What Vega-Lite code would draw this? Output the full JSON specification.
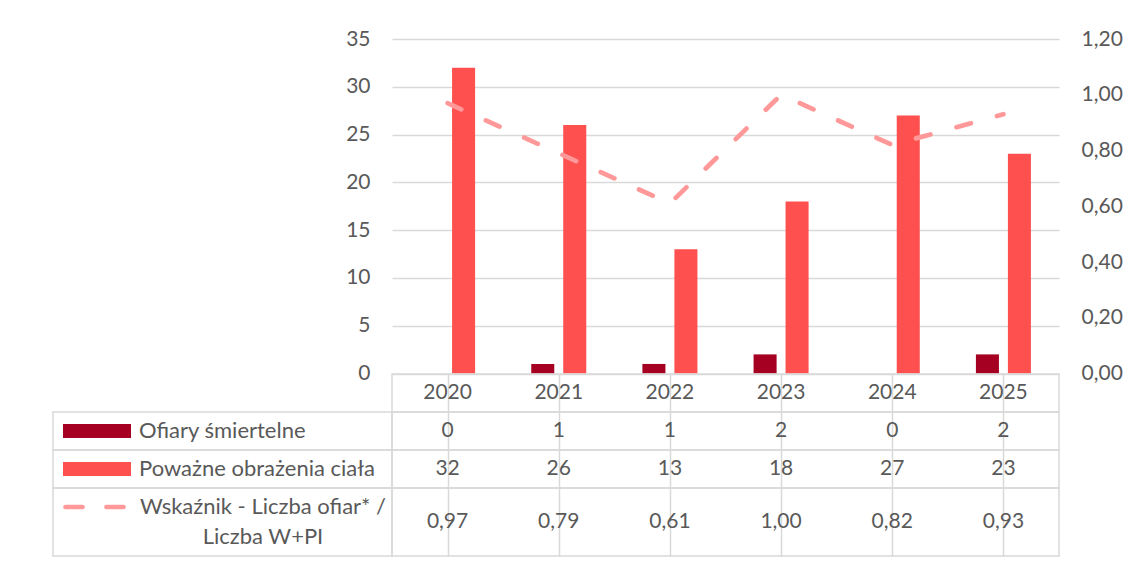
{
  "$schema": "https://vega.github.io/schema/vega-lite/v6.json",
  "padding": {"left": 52, "top": 28, "right": 5, "bottom": 0},
  "background": "white",
  "config": {
    "font": "Lato",
    "locale": {"number": {"decimal": ",", "thousands": " ", "grouping": [3], "currency": ["", " zł"]}},
    "text": {"font": "Lato", "fontSize": 21, "color": "#595959"},
    "axis": {"labelFont": "Lato", "labelFontSize": 21, "labelColor": "#595959"},
    "view": {"stroke": "#d9d9d9", "strokeWidth": 1.5}
  },
  "datasets": {
    "main": [
      {"year": "2020", "series": "Ofiary śmiertelne", "value": 0},
      {"year": "2021", "series": "Ofiary śmiertelne", "value": 1},
      {"year": "2022", "series": "Ofiary śmiertelne", "value": 1},
      {"year": "2023", "series": "Ofiary śmiertelne", "value": 2},
      {"year": "2024", "series": "Ofiary śmiertelne", "value": 0},
      {"year": "2025", "series": "Ofiary śmiertelne", "value": 2},
      {"year": "2020", "series": "Poważne obrażenia ciała", "value": 32},
      {"year": "2021", "series": "Poważne obrażenia ciała", "value": 26},
      {"year": "2022", "series": "Poważne obrażenia ciała", "value": 13},
      {"year": "2023", "series": "Poważne obrażenia ciała", "value": 18},
      {"year": "2024", "series": "Poważne obrażenia ciała", "value": 27},
      {"year": "2025", "series": "Poważne obrażenia ciała", "value": 23}
    ],
    "ratio": [
      {"year": "2020", "ratio": 0.97},
      {"year": "2021", "ratio": 0.79},
      {"year": "2022", "ratio": 0.61},
      {"year": "2023", "ratio": 1.00},
      {"year": "2024", "ratio": 0.82},
      {"year": "2025", "ratio": 0.93}
    ]
  },
  "columns": 2,
  "spacing": 0,
  "bounds": "flush",
  "concat": [
    {
      "width": 339, "height": 334.5,
      "view": {"stroke": null},
      "data": {"values": [{}]},
      "mark": {"type": "text", "text": ""}
    },
    {
      "width": 667, "height": 334.5,
      "view": {"stroke": null},
      "layer": [
        {
          "data": {"name": "main"},
          "mark": {"type": "bar"},
          "encoding": {
            "x": {"field": "year", "type": "ordinal", "axis": null, "scale": {"paddingInner": 0.505, "paddingOuter": 0.2525}},
            "xOffset": {"field": "series", "type": "nominal", "sort": ["Ofiary śmiertelne", "Poważne obrażenia ciała"], "scale": {"paddingInner": 0.28, "paddingOuter": 0}},
            "y": {"field": "value", "type": "quantitative", "scale": {"domain": [0, 35]},
                  "axis": {"values": [0, 5, 10, 15, 20, 25, 30, 35], "title": null, "grid": true, "gridColor": "#d9d9d9", "gridWidth": 1.5, "domain": false, "ticks": false, "labelPadding": 22}},
            "color": {"field": "series", "type": "nominal", "scale": {"domain": ["Ofiary śmiertelne", "Poważne obrażenia ciała"], "range": ["#a50021", "#ff5050"]}, "legend": null}
          }
        },
        {
          "data": {"name": "ratio"},
          "mark": {"type": "line", "color": "#ff9999", "strokeWidth": 4.7, "strokeDash": [15, 27], "strokeCap": "round"},
          "encoding": {
            "x": {"field": "year", "type": "ordinal", "axis": null},
            "y": {"field": "ratio", "type": "quantitative", "scale": {"domain": [0, 1.2]},
                  "axis": {"orient": "right", "values": [0, 0.2, 0.4, 0.6, 0.8, 1.0, 1.2], "format": ".2f", "title": null, "grid": false, "domain": false, "ticks": false, "labelPadding": 22}}
          }
        }
      ],
      "resolve": {"scale": {"y": "independent"}}
    },
    {
      "width": 339, "height": 38,
      "view": {"stroke": null},
      "data": {"values": [{}]},
      "mark": {"type": "text", "text": ""}
    },
    {
      "width": 667, "height": 38,
      "data": {"name": "ratio"},
      "mark": {"type": "text", "baseline": "middle"},
      "encoding": {
        "x": {"field": "year", "type": "ordinal", "scale": {"paddingInner": 0, "paddingOuter": 0},
              "axis": {"grid": true, "bandPosition": 0, "labels": false, "ticks": false, "domain": false, "title": null, "gridColor": "#d9d9d9", "gridWidth": 1.5}},
        "text": {"field": "year"}
      }
    },
    {
      "width": 339, "height": 38,
      "data": {"values": [{"label": "Ofiary śmiertelne"}]},
      "encoding": {"y": {"field": "label", "type": "nominal", "axis": null, "scale": {"paddingInner": 0, "paddingOuter": 0}}},
      "layer": [
        {"mark": {"type": "bar", "color": "#a50021", "height": 14}, "encoding": {"x": {"value": 10}, "x2": {"value": 78}}},
        {"mark": {"type": "text", "align": "left", "baseline": "middle", "fontSize": 22}, "encoding": {"x": {"value": 86}, "text": {"field": "label"}}}
      ]
    },
    {
      "width": 667, "height": 38,
      "data": {"name": "main"},
      "transform": [{"filter": "datum.series === 'Ofiary śmiertelne'"}],
      "mark": {"type": "text", "baseline": "middle"},
      "encoding": {
        "x": {"field": "year", "type": "ordinal", "scale": {"paddingInner": 0, "paddingOuter": 0},
              "axis": {"grid": true, "bandPosition": 0, "labels": false, "ticks": false, "domain": false, "title": null, "gridColor": "#d9d9d9", "gridWidth": 1.5}},
        "text": {"field": "value"}
      }
    },
    {
      "width": 339, "height": 38,
      "data": {"values": [{"label": "Poważne obrażenia ciała"}]},
      "encoding": {"y": {"field": "label", "type": "nominal", "axis": null, "scale": {"paddingInner": 0, "paddingOuter": 0}}},
      "layer": [
        {"mark": {"type": "bar", "color": "#ff5050", "height": 14}, "encoding": {"x": {"value": 10}, "x2": {"value": 78}}},
        {"mark": {"type": "text", "align": "left", "baseline": "middle", "fontSize": 22}, "encoding": {"x": {"value": 86}, "text": {"field": "label"}}}
      ]
    },
    {
      "width": 667, "height": 38,
      "data": {"name": "main"},
      "transform": [{"filter": "datum.series === 'Poważne obrażenia ciała'"}],
      "mark": {"type": "text", "baseline": "middle"},
      "encoding": {
        "x": {"field": "year", "type": "ordinal", "scale": {"paddingInner": 0, "paddingOuter": 0},
              "axis": {"grid": true, "bandPosition": 0, "labels": false, "ticks": false, "domain": false, "title": null, "gridColor": "#d9d9d9", "gridWidth": 1.5}},
        "text": {"field": "value"}
      }
    },
    {
      "width": 339, "height": 68,
      "data": {"values": [{"label": "Wskaźnik - Liczba ofiar* /\nLiczba W+PI"}]},
      "encoding": {"y": {"field": "label", "type": "nominal", "axis": null, "scale": {"paddingInner": 0, "paddingOuter": 0}}},
      "layer": [
        {"mark": {"type": "rule", "color": "#ff9999", "strokeWidth": 4.7, "strokeDash": [17, 24], "strokeCap": "round"},
         "encoding": {"x": {"value": 12.5}, "x2": {"value": 70.5}, "y": {"value": 19}}},
        {"mark": {"type": "text", "align": "center", "baseline": "middle", "dy": -15, "lineBreak": "\n", "lineHeight": 30, "fontSize": 22},
         "encoding": {"x": {"value": 210}, "text": {"field": "label"}}}
      ]
    },
    {
      "width": 667, "height": 68,
      "data": {"name": "ratio"},
      "mark": {"type": "text", "baseline": "middle"},
      "encoding": {
        "x": {"field": "year", "type": "ordinal", "scale": {"paddingInner": 0, "paddingOuter": 0},
              "axis": {"grid": true, "bandPosition": 0, "labels": false, "ticks": false, "domain": false, "title": null, "gridColor": "#d9d9d9", "gridWidth": 1.5}},
        "text": {"field": "ratio", "format": ".2f"}
      }
    }
  ]
}
